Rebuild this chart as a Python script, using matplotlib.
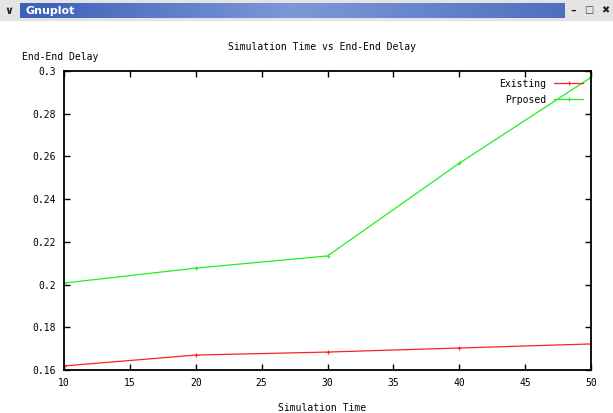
import matplotlib.pyplot as plt
from matplotlib.patches import Rectangle
from matplotlib.colors import LinearSegmentedColormap
import numpy as np

plt.rcParams["font.family"] = "DejaVu Sans Mono"

# 数据
sim_time = [10, 20, 30, 40, 50]
existing = [0.1619, 0.1670, 0.1684, 0.1703, 0.1722]
proposed = [0.2007, 0.2077, 0.2134, 0.2568, 0.2970]

W, H = 613, 413
fig = plt.figure(figsize=(W / 100, H / 100), dpi=100)

# 窗口标题栏
fig.patches.append(Rectangle((0, 1 - 20 / H), 1, 20 / H, transform=fig.transFigure,
                             color="#e4e4e4", zorder=-5))
grad = np.linspace(0, 1, 256).reshape(1, -1)
bar_ax = fig.add_axes([20 / W, 1 - 18 / H, (565 - 20) / W, 15 / H], zorder=5)
bar_ax.imshow(grad, aspect="auto",
              cmap=LinearSegmentedColormap.from_list("bar", ["#3a5fb8", "#7c98d8", "#4f70c0"]))
bar_ax.axis("off")
bar_ax.text(0.01, 0.5, "Gnuplot", color="white", fontsize=8, fontweight="bold",
            family="DejaVu Sans", va="center", transform=bar_ax.transAxes)
fig.text(9 / W, 1 - 10.5 / H, "\u2228", color="#222222", fontsize=8, fontweight="bold",
         family="DejaVu Sans", va="center", ha="center")
fig.text(573 / W, 1 - 10.5 / H, "\u2013", color="#222222", fontsize=8, fontweight="bold",
         family="DejaVu Sans", va="center", ha="center")
fig.text(589 / W, 1 - 10.5 / H, "\u25a1", color="#444444", fontsize=7,
         family="DejaVu Sans", va="center", ha="center")
fig.text(605 / W, 1 - 10.5 / H, "\u2716", color="#222222", fontsize=7,
         family="DejaVu Sans", va="center", ha="center")

ax = fig.add_axes([64 / W, (H - 370) / H, 527 / W, 299 / H])
ax.plot(sim_time, existing, color="#ff2020", lw=0.9, marker="+", ms=3, mew=0.8, label="Existing")
ax.plot(sim_time, proposed, color="#20f020", lw=0.9, marker="+", ms=3, mew=0.8, label="Prposed")

ax.set_xlim(10, 50)
ax.set_ylim(0.16, 0.30)
ax.set_xticks(np.arange(10, 51, 5))
ax.set_yticks(np.arange(0.16, 0.301, 0.02))
ax.set_yticklabels(["0.16", "0.18", "0.2", "0.22", "0.24", "0.26", "0.28", "0.3"])
ax.tick_params(direction="in", length=4, width=1, labelsize=7, top=True, right=True, pad=6)
for s in ax.spines.values():
    s.set_linewidth(1.3)

fig.text(322 / W, 1 - 47 / H, "Simulation Time vs End-End Delay", fontsize=7, ha="center", va="center")
fig.text(22 / W, 1 - 57 / H, "End-End Delay", fontsize=7, ha="left", va="center")
fig.text(322 / W, 1 - 408 / H, "Simulation Time", fontsize=7, ha="center", va="center")

leg = ax.legend(loc="upper right", frameon=False, fontsize=7, markerfirst=False,
                handlelength=3, borderaxespad=0.4, labelspacing=0.6)
for t in leg.get_texts():
    t.set_ha("right")

fig.savefig("out.png", dpi=100)
